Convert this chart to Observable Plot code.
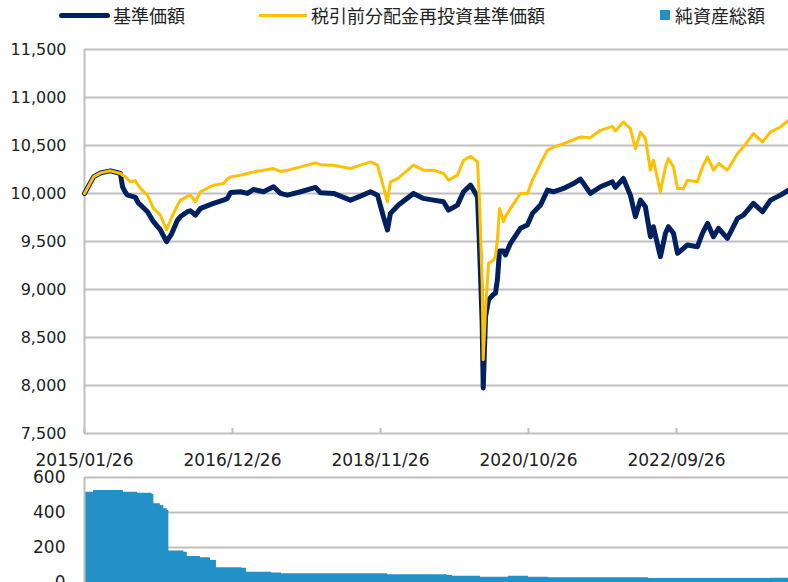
<!DOCTYPE html>
<html>
<head>
<meta charset="utf-8">
<script src="https://cdn.jsdelivr.net/npm/d3@7"></script>
<script src="https://cdn.jsdelivr.net/npm/@observablehq/plot@0.6"></script>
<style>
  html, body { margin: 0; padding: 0; background: #fff; overflow: hidden; }
  #wrap { position: relative; width: 788px; height: 582px; overflow: hidden; }
  .panel { position: absolute; left: 0; }
  .legend { position: absolute; top: 0; left: 0; width: 788px; height: 34px;
    font-family: "Noto Sans CJK JP", sans-serif; font-size: 18px; color: #222; }
  .legend span { position: absolute; line-height: 18px; top: 6px; white-space: nowrap; }
  .legend i { position: absolute; display: block; }
</style>
</head>
<body>
<div id="wrap">
  <div class="legend">
    <i style="left:59px; top:13px; width:51px; height:5px; border-radius:3px; background:#002060;"></i>
    <span id="lg1" style="left:113px;"></span>
    <i style="left:259px; top:14px; width:48px; height:3px; background:#FFC000;"></i>
    <span id="lg2" style="left:311px;"></span>
    <i style="left:660px; top:10px; width:10px; height:10px; background:#2191C8;"></i>
    <span id="lg3" style="left:675px;"></span>
  </div>
  <div id="top" class="panel" style="top:0px;"></div>
  <div id="bottom" class="panel" style="top:460px;"></div>
</div>
<script>
// ---- Data ----
const seriesNames = ["基準価額", "税引前分配金再投資基準価額", "純資産総額"];

const dates = [
  "2015-01-26","2015-03-10","2015-04-12","2015-05-29","2015-07-15","2015-07-25","2015-08-08","2015-08-17",
  "2015-09-01","2015-09-24","2015-10-08","2015-10-18","2015-11-20","2015-12-18","2016-01-20","2016-02-18",
  "2016-03-13","2016-04-10","2016-04-24","2016-05-27","2016-06-10","2016-07-04","2016-07-28","2016-09-27",
  "2016-11-13","2016-12-02","2016-12-17","2017-02-02","2017-03-07","2017-04-04","2017-05-22","2017-07-08",
  "2017-08-10","2017-09-12","2017-11-13","2018-01-23","2018-02-15","2018-04-18","2018-07-07","2018-08-23",
  "2018-10-10","2018-11-12","2018-12-10","2018-12-29","2019-01-12","2019-02-19","2019-05-01","2019-06-17",
  "2019-08-04","2019-09-20","2019-10-14","2019-11-25","2019-12-24","2020-01-26","2020-02-28","2020-03-08",
  "2020-03-21","2020-03-26","2020-04-06","2020-04-20","2020-05-14","2020-05-23","2020-06-01","2020-06-11",
  "2020-06-30","2020-07-09","2020-08-02","2020-09-18","2020-10-21","2020-11-14","2020-12-22","2021-01-24",
  "2021-02-21","2021-04-10","2021-05-27","2021-06-29","2021-08-15","2021-10-02","2021-11-27","2021-12-11",
  "2022-01-18","2022-02-20","2022-03-16","2022-04-09","2022-05-02","2022-05-26","2022-06-09","2022-07-12",
  "2022-08-05","2022-08-19","2022-09-12","2022-10-01","2022-10-29","2022-11-17","2023-01-03","2023-01-27",
  "2023-02-20","2023-03-20","2023-04-13","2023-05-25","2023-07-12","2023-08-09","2023-09-25","2023-11-07",
  "2023-12-15","2024-01-31","2024-03-09"
];

const navValues = [
  10000,10173,10215,10236,10208,10070,10010,9983,
  9975,9960,9900,9880,9810,9706,9620,9498,
  9580,9723,9760,9810,9820,9775,9845,9897,
  9930,9949,10010,10018,10001,10042,10018,10070,
  10001,9983,10018,10063,10008,10001,9931,9973,
  10018,9983,9758,9620,9793,9880,10001,9949,
  9931,9914,9827,9879,10018,10087,9966,9481,
  8650,7975,8719,8892,8950,8962,9100,9400,
  9400,9360,9481,9637,9671,9793,9879,10035,
  10018,10053,10104,10150,10001,10070,10122,10063,
  10156,9983,9758,9931,9862,9550,9654,9342,
  9585,9654,9585,9377,9429,9464,9446,9585,
  9689,9550,9637,9533,9741,9775,9897,9810,
  9931,9983,10035
];

const reinvestValues = [
  10000,10173,10215,10236,10208,10190,10173,10150,
  10122,10132,10080,10053,9983,9845,9775,9620,
  9750,9880,9931,9970,9983,9914,10018,10087,
  10104,10150,10173,10191,10208,10225,10243,10260,
  10230,10243,10277,10319,10300,10295,10260,10295,
  10329,10295,10070,9914,10122,10160,10295,10243,
  10243,10208,10139,10191,10347,10388,10329,9931,
  9066,8268,8800,9273,9308,9350,9516,9845,
  9706,9760,9845,10001,10001,10139,10312,10451,
  10480,10520,10560,10589,10582,10658,10700,10651,
  10745,10676,10468,10641,10572,10243,10347,10018,
  10277,10364,10277,10053,10053,10139,10122,10277,
  10381,10243,10312,10243,10416,10485,10624,10537,
  10641,10693,10762
];

const assetDates = [
  "2015-01-26","2015-03-10","2015-07-15","2015-07-29","2015-10-04","2015-12-12","2015-12-20","2016-01-20",
  "2016-02-05","2016-02-21","2016-02-29","2016-05-10","2016-05-26","2016-07-28","2016-09-13","2016-10-11",
  "2017-02-07","2017-03-02","2017-06-28","2017-08-15","2018-12-29","2019-10-09","2019-11-02","2020-03-13",
  "2020-07-23","2020-10-26","2021-01-29","2022-03-30","2022-05-17","2023-12-15","2024-03-09"
];
const assetValues = [
  516,526,526,516,510,503,450,440,
  421,411,180,173,149,141,126,84,
  82,59,55,50,44,40,36,30,
  36,30,27,27,23,25,25
];

const xTickLabels = ["2015/01/26","2016/12/26","2018/11/26","2020/10/26","2022/09/26"];
const yTicks = [7500,8000,8500,9000,9500,10000,10500,11000,11500];
const assetTicks = [0,200,400,600];

// ---- Build ----
const parse = d3.utcParse("%Y-%m-%d");
const parseTick = d3.utcParse("%Y/%m/%d");
const fmtTick = d3.utcFormat("%Y/%m/%d");

const series = dates.map((d, i) => ({date: parse(d), nav: navValues[i], reinvest: reinvestValues[i]}));
const assets = assetDates.map((d, i) => ({date: parse(d), value: assetValues[i]}));
const xTicks = xTickLabels.map(parseTick);
const xDomain = [parse(dates[0]), parse(dates[dates.length - 1])];

const GRID = "#bfbfbf";
const TEXT = "#222";

document.getElementById("lg1").textContent = seriesNames[0];
document.getElementById("lg2").textContent = seriesNames[1];
document.getElementById("lg3").textContent = seriesNames[2];

const topChart = Plot.plot({
  width: 788, height: 470,
  marginTop: 49, marginBottom: 37, marginLeft: 84, marginRight: 0,
  style: {fontFamily: "'DejaVu Sans', Verdana, sans-serif", fontSize: "16px", color: TEXT, background: "transparent", overflow: "visible"},
  x: {type: "utc", domain: xDomain, label: null},
  y: {domain: [7500, 11500], label: null},
  marks: [
    Plot.gridY(yTicks, {stroke: GRID, strokeOpacity: 1, strokeWidth: 2}),
    Plot.ruleX([xDomain[0]], {stroke: GRID, strokeWidth: 2}),
    Plot.axisY(yTicks, {tickSize: 0, tickPadding: 18, tickFormat: d3.format(","), fontSize: 16}),
    Plot.axisX(xTicks, {tickSize: 0, tickPadding: 20, tickFormat: fmtTick, fontSize: 17}),
    Plot.axisX(xTicks, {tickSize: 5, dy: -5, tickFormat: () => "", stroke: GRID, strokeWidth: 2}),
    Plot.lineY(series, {x: "date", y: "nav", stroke: "#002060", strokeWidth: 5, strokeLinejoin: "round"}),
    Plot.lineY(series, {x: "date", y: "reinvest", stroke: "#FFC000", strokeWidth: 3, strokeLinejoin: "round"})
  ]
});
document.getElementById("top").appendChild(topChart);

const bottomChart = Plot.plot({
  width: 788, height: 122,
  marginTop: 17, marginBottom: 0, marginLeft: 84, marginRight: 0,
  style: {fontFamily: "'DejaVu Sans', Verdana, sans-serif", fontSize: "17px", color: TEXT, background: "transparent", overflow: "visible"},
  x: {type: "utc", domain: xDomain, label: null, axis: null},
  y: {domain: [0, 600], label: null},
  marks: [
    Plot.gridY([200, 400, 600], {stroke: GRID, strokeOpacity: 1, strokeWidth: 2}),
    Plot.areaY(assets, {x: "date", y: "value", curve: "step-after", fill: "#2191C8"}),
    Plot.ruleX([xDomain[0]], {stroke: GRID, strokeWidth: 2}),
    Plot.axisY(assetTicks, {tickSize: 0, tickPadding: 19, fontSize: 17})
  ]
});
document.getElementById("bottom").appendChild(bottomChart);
</script>
</body>
</html>
